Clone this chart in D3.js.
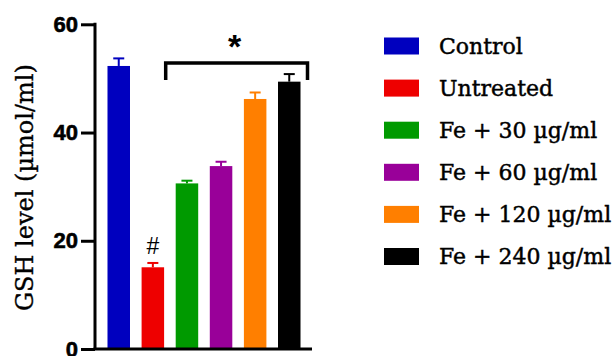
<!DOCTYPE html>
<html>
<head>
<meta charset="utf-8">
<script src="https://cdn.jsdelivr.net/npm/d3@7"></script>
<style>
  html, body { margin: 0; padding: 0; background: #fff; }
  svg { display: block; }
</style>
</head>
<body>
<svg id="chart" width="615" height="356"></svg>
<script>
// GSH level per treatment group (mean and upper error)
const groups = ["Control", "Untreated", "Fe + 30 µg/ml", "Fe + 60 µg/ml", "Fe + 120 µg/ml", "Fe + 240 µg/ml"];
const means = [52.3, 15.1, 30.6, 33.8, 46.2, 49.4];
const errors = [1.4, 0.8, 0.5, 0.8, 1.2, 1.4];
const colors = ["#0000bf", "#ee0000", "#009a00", "#990099", "#ff7f00", "#000000"];
const yTicks = [0, 20, 40, 60];
const yLabel = "GSH level (µmol/ml)";
const markUntreated = "#";
const markTreated = "*";

const svg = d3.select("#chart");

const x = d3.scaleBand()
  .domain(groups)
  .range([96, 312])
  .paddingInner(0.34)
  .paddingOuter(0.337);

const y = d3.scaleLinear().domain([0, 60]).range([349, 24.3]);

// bars
svg.append("g").selectAll("rect")
  .data(groups)
  .join("rect")
  .attr("x", d => x(d))
  .attr("width", x.bandwidth())
  .attr("y", (d, i) => y(means[i]))
  .attr("height", (d, i) => y(0) - y(means[i]))
  .attr("fill", (d, i) => colors[i]);

// upper error bars
const eb = svg.append("g").selectAll("g")
  .data(groups)
  .join("g")
  .attr("stroke", (d, i) => colors[i])
  .attr("stroke-width", 2);
eb.append("line")
  .attr("x1", d => x(d) + x.bandwidth() / 2)
  .attr("x2", d => x(d) + x.bandwidth() / 2)
  .attr("y1", (d, i) => y(means[i]))
  .attr("y2", (d, i) => y(means[i] + errors[i]));
eb.append("line")
  .attr("x1", d => x(d) + x.bandwidth() / 2 - 5.5)
  .attr("x2", d => x(d) + x.bandwidth() / 2 + 5.5)
  .attr("y1", (d, i) => y(means[i] + errors[i]))
  .attr("y2", (d, i) => y(means[i] + errors[i]));

// y axis
const yAxis = svg.append("g")
  .attr("transform", "translate(95,0)")
  .call(d3.axisLeft(y).tickValues(yTicks).tickSize(14).tickPadding(3).tickFormat(d3.format("d")));
yAxis.select(".domain").attr("stroke", "#000").attr("stroke-width", 3)
  .attr("d", `M0,${y(60) - 1.5}V${y(0)}`);
yAxis.selectAll(".tick line").attr("stroke", "#000").attr("stroke-width", 3);
yAxis.selectAll(".tick text")
  .attr("font-family", "Liberation Sans, Arial, sans-serif")
  .attr("font-weight", "bold")
  .attr("font-size", 22)
  .attr("fill", "#000")
  .attr("stroke", "#000")
  .attr("stroke-width", 0.6);

// x axis baseline
svg.append("line")
  .attr("x1", 93.5).attr("x2", 312)
  .attr("y1", y(0)).attr("y2", y(0))
  .attr("stroke", "#000").attr("stroke-width", 3);

// y axis title
svg.append("text")
  .attr("transform", `translate(33,${(y(0) + y(60)) / 2 + 1}) rotate(-90)`)
  .attr("text-anchor", "middle")
  .attr("font-family", "DejaVu Serif, serif")
  .attr("font-size", 24)
  .attr("fill", "#000")
  .attr("stroke", "#000")
  .attr("stroke-width", 0.35)
  .text(yLabel);

// significance marks
svg.append("text")
  .attr("x", x(groups[1]) + x.bandwidth() / 2)
  .attr("y", y(means[1] + errors[1]) - 9)
  .attr("text-anchor", "middle")
  .attr("font-family", "Liberation Sans, Arial, sans-serif")
  .attr("font-size", 23)
  .attr("fill", "#000")
  .text(markUntreated);

const bx0 = x(groups[2]) - 10;
const bx1 = x(groups[5]) + x.bandwidth() + 7;
const by = y(52.85);
const legEnd = y(49.7);
svg.append("path")
  .attr("d", `M${bx0},${legEnd}V${by}H${bx1}V${legEnd}`)
  .attr("fill", "none")
  .attr("stroke", "#000")
  .attr("stroke-width", 3.5);
svg.append("text")
  .attr("x", (bx0 + bx1) / 2 - 2)
  .attr("y", by - 4.5)
  .attr("text-anchor", "middle")
  .attr("font-family", "Liberation Sans, Arial, sans-serif")
  .attr("font-weight", "bold")
  .attr("font-size", 34)
  .attr("fill", "#000")
  .text(markTreated);

// legend
const legend = svg.append("g").selectAll("g")
  .data(groups)
  .join("g")
  .attr("transform", (d, i) => `translate(384,${46 + i * 42.1})`);
legend.append("rect")
  .attr("x", 0).attr("y", -8.5)
  .attr("width", 35).attr("height", 17)
  .attr("fill", (d, i) => colors[i]);
legend.append("text")
  .attr("x", 55)
  .attr("y", 0)
  .attr("dy", "0.35em")
  .attr("font-family", "DejaVu Serif, serif")
  .attr("font-size", 22)
  .attr("fill", "#000")
  .attr("stroke", "#000")
  .attr("stroke-width", 0.45)
  .text(d => d);
</script>
</body>
</html>
